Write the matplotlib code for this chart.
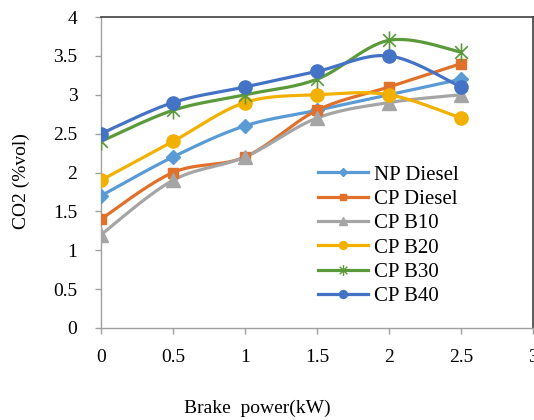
import numpy as np
import matplotlib
matplotlib.use("Agg")
import matplotlib.pyplot as plt
from matplotlib.path import Path
from matplotlib.lines import Line2D

# ---- data ----
brake_power = [0, 0.5, 1, 1.5, 2, 2.5]
np_diesel = [1.7, 2.2, 2.6, 2.8, 3.0, 3.2]
cp_diesel = [1.4, 2.0, 2.2, 2.8, 3.1, 3.4]
cp_b10 = [1.2, 1.9, 2.2, 2.7, 2.9, 3.0]
cp_b20 = [1.9, 2.4, 2.9, 3.0, 3.0, 2.7]
cp_b30 = [2.4, 2.8, 3.0, 3.2, 3.7, 3.55]
cp_b40 = [2.5, 2.9, 3.1, 3.3, 3.5, 3.1]
series_names = ["NP Diesel", "CP Diesel", "CP B10", "CP B20", "CP B30", "CP B40"]
x_ticks = [0, 0.5, 1, 1.5, 2, 2.5, 3]
y_ticks = [0, 0.5, 1, 1.5, 2, 2.5, 3, 3.5, 4]

plt.rcParams['font.family'] = ['Liberation Serif', 'DejaVu Serif']

# star marker (x plus vertical line)
star_path = Path(
    [(-0.7, -0.7), (0.7, 0.7), (-0.7, 0.7), (0.7, -0.7), (0, -1), (0, 1)],
    [Path.MOVETO, Path.LINETO, Path.MOVETO, Path.LINETO, Path.MOVETO, Path.LINETO])

styles = [
    dict(color="#5B9BD5", marker="D", ms=7),
    dict(color="#E0702A", marker="s", ms=7.5),
    dict(color="#A5A5A5", marker="^", ms=9.5),
    dict(color="#F2B100", marker="o", ms=9.5),
    dict(color="#5B9A3A", marker=star_path, ms=13),
    dict(color="#4472C4", marker="o", ms=9.5),
]
data = [np_diesel, cp_diesel, cp_b10, cp_b20, cp_b30, cp_b40]


def smooth(xs, ys, n=30):
    pts = np.column_stack([xs, ys]).astype(float)
    out = [pts[0]]
    m = len(pts)
    for i in range(m - 1):
        p0 = pts[i - 1] if i > 0 else pts[i]
        p1 = pts[i]
        p2 = pts[i + 1]
        p3 = pts[i + 2] if i + 2 < m else pts[i + 1]
        c1 = p1 + (p2 - p0) / 6.0
        c2 = p2 - (p3 - p1) / 6.0
        t = np.linspace(0, 1, n)[1:, None]
        seg = ((1 - t) ** 3) * p1 + 3 * ((1 - t) ** 2) * t * c1 + 3 * (1 - t) * t ** 2 * c2 + t ** 3 * p2
        out.extend(seg)
    out = np.array(out)
    return out[:, 0], out[:, 1]


fig = plt.figure(figsize=(5.34, 4.2), dpi=100)
ax = fig.add_axes([101 / 534, 92 / 420, 432 / 534, 311 / 420])

handles = []
for name, ys, st in zip(series_names, data, styles):
    sx, sy = smooth(brake_power, ys)
    ax.plot(sx, sy, color=st["color"], lw=2.3, solid_capstyle="round", zorder=2)
    if st["marker"] is star_path:
        ax.plot(brake_power, ys, ls="none", marker=st["marker"], ms=st["ms"],
                mec=st["color"], mew=1.2, zorder=3)
    else:
        ax.plot(brake_power, ys, ls="none", marker=st["marker"], ms=st["ms"],
                color=st["color"], mec=st["color"], zorder=3)
    handles.append(Line2D([], [], color=st["color"], lw=2.3, marker=st["marker"],
                          ms=st["ms"] * 0.6, mec=st["color"], mew=1.0))

ax.set_xlim(0, 3)
ax.set_ylim(0, 4)
ax.set_xticks(x_ticks)
ax.set_yticks(y_ticks)
ax.set_xticklabels([f"{v:g}" for v in x_ticks])
ax.set_yticklabels([f"{v:g}" for v in y_ticks])

for s in ["left", "bottom"]:
    ax.spines[s].set_color("#A0A0A0")
    ax.spines[s].set_linewidth(1.0)
for s in ["top", "right"]:
    ax.spines[s].set_color("#404040")
    ax.spines[s].set_linewidth(1.2)
ax.tick_params(axis="both", direction="out", length=4, width=1.0, color="#A0A0A0",
               labelsize=14, labelcolor="black", pad=11)
ax.tick_params(axis="y", pad=13)

fig.text(257 / 534, 1 - 408 / 420, "Brake  power(kW)", ha="center", va="center", fontsize=14)
fig.text(21 / 534, 1 - 181 / 420, "CO2 (%vol)", ha="center", va="center", rotation=90, fontsize=14)

leg = ax.legend(handles, series_names, loc="upper left",
                bbox_to_anchor=(318 / 534, 1 - 165 / 420), bbox_transform=fig.transFigure,
                frameon=False, fontsize=15, handlelength=2.4, handletextpad=0.3,
                labelspacing=0.23, borderpad=0, borderaxespad=0)

fig.savefig("out.png", dpi=100)
